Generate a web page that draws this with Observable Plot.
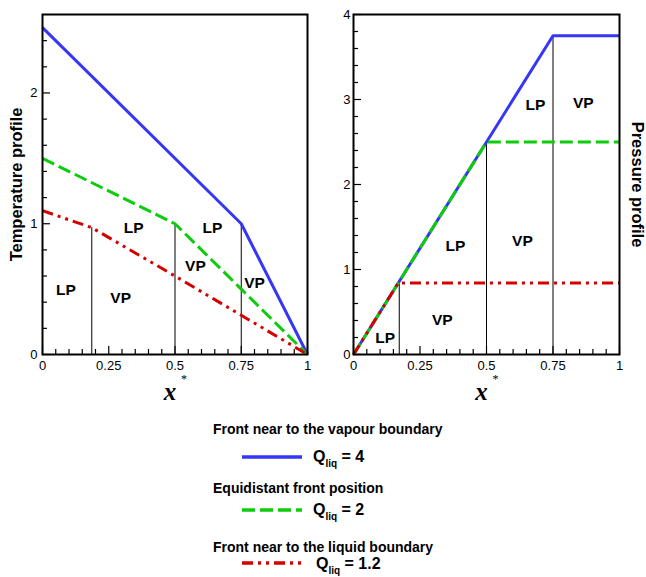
<!DOCTYPE html>
<html><head><meta charset="utf-8">
<script src="https://cdn.jsdelivr.net/npm/d3@7"></script>
<script src="https://cdn.jsdelivr.net/npm/@observablehq/plot@0.6"></script>
<style>
body{margin:0;background:#fff;}
#root{position:relative;width:646px;height:577px;font-family:Arial,"Liberation Sans",Helvetica,sans-serif;background:#fff;}
#root > svg{position:absolute;}
</style></head><body><div id="root"></div>
<script>
// ---- data ----
const xTicks = [0, 0.25, 0.5, 0.75, 1];
const xMinorTicks = [0.05,0.1,0.15,0.2,0.3,0.35,0.4,0.45,0.55,0.6,0.65,0.7,0.8,0.85,0.9,0.95];
const tempTicks = [0, 1, 2];
const tempMinorTicks = [0.2,0.4,0.6,0.8,1.2,1.4,1.6,1.8,2.2,2.4];
const presTicks = [0, 1, 2, 3, 4];
const presMinorTicks = [0.2,0.4,0.6,0.8,1.2,1.4,1.6,1.8,2.2,2.4,2.6,2.8,3.2,3.4,3.6,3.8];

// Temperature profile
const tempBlueX = [0, 0.75, 1];
const tempBlueY = [2.5, 1.0, 0];
const tempGreenX = [0, 0.5, 0.75, 1];
const tempGreenY = [1.5, 1.0, 0.5, 0];
const tempRedX = [0, 0.186, 0.5, 0.75, 1];
const tempRedY = [1.1, 0.97, 0.6, 0.3, 0];
const tempFrontX = [0.186, 0.5, 0.75];
const tempFrontTop = [0.97, 1.0, 1.0];
const tempRegionText = ["LP", "VP", "LP", "VP", "LP", "VP"];
const tempRegionX = [0.088, 0.295, 0.344, 0.577, 0.641, 0.80];
const tempRegionY = [0.49, 0.435, 0.97, 0.68, 0.97, 0.55];

// Pressure profile
const presBlueX = [0, 0.75, 1];
const presBlueY = [0, 3.75, 3.75];
const presGreenX = [0, 0.5, 1];
const presGreenY = [0, 2.5, 2.5];
const presRedX = [0, 0.168, 1];
const presRedY = [0, 0.84, 0.84];
const presFrontX = [0.172, 0.5, 0.75];
const presFrontTop = [0.84, 2.5, 3.75];
const presRegionText = ["LP", "VP", "LP", "VP", "VP", "LP"];
const presRegionX = [0.684, 0.864, 0.383, 0.635, 0.334, 0.119];
const presRegionY = [2.93, 2.96, 1.28, 1.34, 0.40, 0.19];

// legend
const legendTitles = ["Front near to the vapour boundary", "Equidistant front position", "Front near to the liquid boundary"];
const legendQ = ["4", "2", "1.2"];

const FONT = 'Arial, "Liberation Sans", Helvetica, sans-serif';
const SERIF = '"Times New Roman", "Liberation Serif", "DejaVu Serif", serif';
const BLUE = "#3636f6", GREEN = "#0ccc0c", RED = "#d40000";
const DASH_GREEN = "13,5", DASH_RED = "11,5,3,5,3,5";

const zip = (xs, ys) => xs.map((x, i) => ({x, y: ys[i]}));

const W = 323, H = 405, MT = 14, MB = 51;

function panel({yDomain, yTicks, yMinor, blue, green, red, fronts, regions, yLabel, left, ml, mr, yTickPad}) {
  const fw = W - ml - mr, fh = H - MT - MB;
  const marks = [
    Plot.ruleX(fronts, {x: "x", y1: 0, y2: "y", stroke: "black", strokeWidth: 1}),
    Plot.line(blue, {x: "x", y: "y", stroke: BLUE, strokeWidth: 3, strokeLinecap: "butt"}),
    Plot.line(green, {x: "x", y: "y", stroke: GREEN, strokeWidth: 3, strokeDasharray: DASH_GREEN, strokeLinecap: "butt"}),
    Plot.line(red, {x: "x", y: "y", stroke: RED, strokeWidth: 3, strokeDasharray: DASH_RED, strokeLinecap: "butt"}),
    // inward ticks
    Plot.ruleX(xMinorTicks, {x: d => d, insetTop: fh - 5, stroke: "black", strokeWidth: 1.2}),
    Plot.ruleX(xTicks, {x: d => d, insetTop: fh - 8, stroke: "black", strokeWidth: 1.2}),
    Plot.ruleY(yMinor, {y: d => d, insetRight: fw - 5, stroke: "black", strokeWidth: 1.2}),
    Plot.ruleY(yTicks, {y: d => d, insetRight: fw - 8, stroke: "black", strokeWidth: 1.2}),
    Plot.axisX({ticks: xTicks, tickSize: 0, tickPadding: 6, tickFormat: d => String(d), label: null}),
    Plot.axisY({ticks: yTicks, tickSize: 0, tickPadding: yTickPad, tickFormat: d => String(d), label: null}),
    Plot.frame({stroke: "black", strokeWidth: 2}),
    Plot.text(regions, {x: "x", y: "y", text: "t", fontWeight: "bold", fontSize: 15.5}),
    Plot.text([yLabel.text], {text: d => d, frameAnchor: yLabel.anchor, textAnchor: "middle", lineAnchor: "middle",
      rotate: yLabel.rotate, dx: yLabel.dx, fontWeight: "bold", fontSize: 16.5}),
    Plot.text(["x"], {text: d => d, frameAnchor: "bottom", dy: 45, dx: -5, fontStyle: "italic", fontWeight: "bold", fontFamily: SERIF, fontSize: 25}),
    Plot.text(["*"], {text: d => d, frameAnchor: "bottom", dy: 28, dx: 9, fontFamily: SERIF, fontSize: 12})
  ];
  const svg = Plot.plot({
    width: W, height: H,
    marginLeft: ml, marginRight: mr, marginTop: MT, marginBottom: MB,
    style: {fontFamily: FONT, fontSize: "13px", color: "black", background: "transparent", overflow: "visible"},
    x: {domain: [0, 1]},
    y: {domain: yDomain},
    marks
  });
  svg.style.left = left + "px";
  svg.style.top = "0px";
  return svg;
}

const root = document.getElementById("root");

root.appendChild(panel({
  yDomain: [0, 2.6], yTicks: tempTicks, yMinor: tempMinorTicks,
  blue: zip(tempBlueX, tempBlueY), green: zip(tempGreenX, tempGreenY), red: zip(tempRedX, tempRedY),
  fronts: zip(tempFrontX, tempFrontTop),
  regions: tempRegionText.map((t, i) => ({t, x: tempRegionX[i], y: tempRegionY[i]})),
  yLabel: {text: "Temperature profile", anchor: "left", rotate: -90, dx: -26},
  left: 0, ml: 42, mr: 16, yTickPad: 5
}));

root.appendChild(panel({
  yDomain: [0, 4], yTicks: presTicks, yMinor: presMinorTicks,
  blue: zip(presBlueX, presBlueY), green: zip(presGreenX, presGreenY), red: zip(presRedX, presRedY),
  fronts: zip(presFrontX, presFrontTop),
  regions: presRegionText.map((t, i) => ({t, x: presRegionX[i], y: presRegionY[i]})),
  yLabel: {text: "Pressure profile", anchor: "right", rotate: 90, dx: 18},
  left: 323, ml: 30, mr: 27, yTickPad: 3
}));

// ---- legend ----
const legend = d3.create("svg").attr("width", 646).attr("height", 172)
  .style("left", "0px").style("top", "405px")
  .attr("font-family", FONT).attr("font-weight", "bold");
const colors = [BLUE, GREEN, RED];
const dashes = [null, DASH_GREEN, DASH_RED];
const titleY = [29, 88, 147];
const lineY = [52, 105, 158];
const qY = [57, 110, 164];
const qX = [313, 313, 316];
legendTitles.forEach((t, i) => {
  legend.append("text").attr("x", 213).attr("y", titleY[i]).attr("font-size", 14).text(t);
  legend.append("line").attr("x1", 242).attr("x2", 302).attr("y1", lineY[i]).attr("y2", lineY[i])
    .attr("stroke", colors[i]).attr("stroke-width", 3.5).attr("stroke-dasharray", dashes[i]);
  const tx = legend.append("text").attr("x", qX[i]).attr("y", qY[i]).attr("font-size", 16);
  tx.append("tspan").text("Q");
  tx.append("tspan").attr("dy", 5).attr("font-size", 10).text("liq");
  tx.append("tspan").attr("dy", -5).text(" = " + legendQ[i]);
});
root.appendChild(legend.node());
</script></body></html>
